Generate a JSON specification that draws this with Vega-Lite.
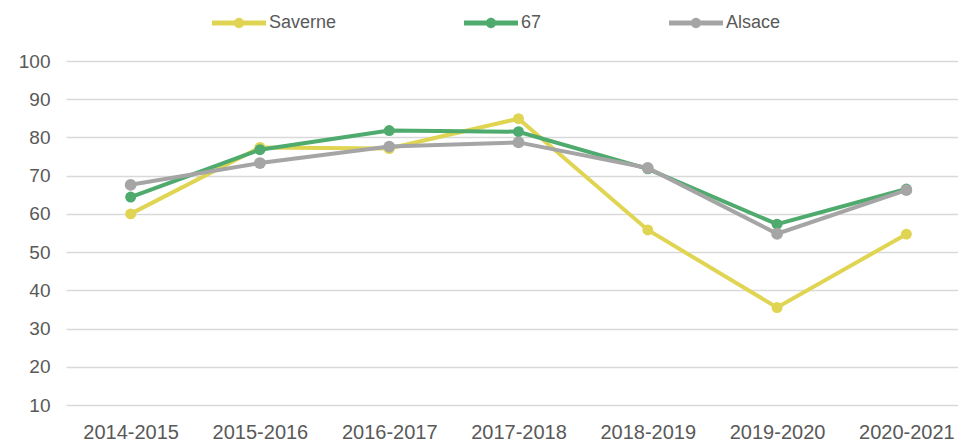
{
  "$schema": "https://vega.github.io/schema/vega-lite/v6.json",
  "autosize": {"type": "none"},
  "padding": {"left": 66, "top": 61, "right": 10, "bottom": 38},
  "width": 905,
  "height": 344,
  "background": "white",
  "data": {"values": [
    {"annee": "2014-2015", "serie": "Saverne", "valeur": 60.0},
    {"annee": "2015-2016", "serie": "Saverne", "valeur": 77.4},
    {"annee": "2016-2017", "serie": "Saverne", "valeur": 77.1},
    {"annee": "2017-2018", "serie": "Saverne", "valeur": 84.9},
    {"annee": "2018-2019", "serie": "Saverne", "valeur": 55.8},
    {"annee": "2019-2020", "serie": "Saverne", "valeur": 35.5},
    {"annee": "2020-2021", "serie": "Saverne", "valeur": 54.7},
    {"annee": "2014-2015", "serie": "67", "valeur": 64.4},
    {"annee": "2015-2016", "serie": "67", "valeur": 76.8},
    {"annee": "2016-2017", "serie": "67", "valeur": 81.8},
    {"annee": "2017-2018", "serie": "67", "valeur": 81.5},
    {"annee": "2018-2019", "serie": "67", "valeur": 71.8},
    {"annee": "2019-2020", "serie": "67", "valeur": 57.3},
    {"annee": "2020-2021", "serie": "67", "valeur": 66.5},
    {"annee": "2014-2015", "serie": "Alsace", "valeur": 67.6},
    {"annee": "2015-2016", "serie": "Alsace", "valeur": 73.3},
    {"annee": "2016-2017", "serie": "Alsace", "valeur": 77.6},
    {"annee": "2017-2018", "serie": "Alsace", "valeur": 78.7},
    {"annee": "2018-2019", "serie": "Alsace", "valeur": 72.0},
    {"annee": "2019-2020", "serie": "Alsace", "valeur": 54.8},
    {"annee": "2020-2021", "serie": "Alsace", "valeur": 66.2}
  ]},
  "encoding": {
    "x": {"field": "annee", "type": "ordinal", "sort": null,
      "scale": {"type": "point", "padding": 0.5},
      "axis": {"title": null, "labelAngle": 0, "domain": false, "ticks": false, "grid": false,
        "labelFont": "Liberation Sans", "labelFontSize": 20, "labelColor": "#595959", "labelPadding": 17}},
    "y": {"field": "valeur", "type": "quantitative",
      "scale": {"domain": [10, 100], "nice": false, "zero": false},
      "axis": {"title": null, "values": [10,20,30,40,50,60,70,80,90,100], "domain": false, "ticks": false,
        "grid": true, "gridColor": "#D9D9D9", "gridWidth": 1.5,
        "labelFont": "Liberation Sans", "labelFontSize": 19, "labelColor": "#595959", "labelPadding": 16}},
    "color": {"field": "serie", "type": "nominal",
      "scale": {"domain": ["Saverne", "67", "Alsace"], "range": ["#E0D552", "#4FAA6E", "#A5A5A5"]},
      "legend": {"title": null, "orient": "none", "direction": "horizontal", "legendX": 146, "legendY": -65,
        "symbolType": "M-1,-0.095 H1 V0.095 H-1 Z M0.19,0 A0.19,0.19 0 1,1 -0.19,0 A0.19,0.19 0 1,1 0.19,0 Z",
        "symbolSize": 2916, "symbolStrokeWidth": 0, "columnPadding": 127, "labelOffset": 3,
        "labelFont": "Liberation Sans", "labelFontSize": 18, "labelColor": "#595959",
        "encode": {"symbols": {"update": {"fill": {"scale": "color", "field": "value"}, "opacity": {"value": 1}}}}}}
  },
  "layer": [
    {"transform": [{"filter": "datum.serie == 'Saverne'"}],
     "mark": {"type": "line", "strokeWidth": 4, "point": {"filled": true, "size": 120, "opacity": 1}}},
    {"transform": [{"filter": "datum.serie == '67'"}],
     "mark": {"type": "line", "strokeWidth": 4, "point": {"filled": true, "size": 120, "opacity": 1}}},
    {"transform": [{"filter": "datum.serie == 'Alsace'"}],
     "mark": {"type": "line", "strokeWidth": 4, "point": {"filled": true, "size": 140, "opacity": 1}}}
  ],
  "config": {"view": {"stroke": null}}
}
